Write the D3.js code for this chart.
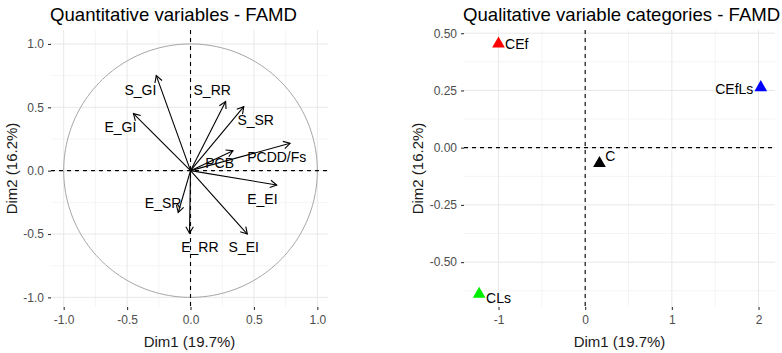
<html>
<head>
  <meta charset="utf-8">
  <style>
    body { margin: 0; background: white; }
    svg { font-family: "Liberation Sans", Arial, sans-serif; }
    .grid-major { stroke: #e8e8e8; stroke-width: 1; }
    .grid-minor { stroke: #f1f1f1; stroke-width: 0.8; }
    .tick-label { fill: #4d4d4d; font-size: 12px; }
    .axis-title { fill: #1a1a1a; font-size: 15px; }
    .plot-title { fill: #000; font-size: 18.6px; }
    .zero-line { stroke: #000; stroke-width: 1.1; stroke-dasharray: 4,4; }
  </style>
</head>
<body>
  <script src="https://d3js.org/d3.v7.min.js"></script>
  <script>
    // quantitative variables (correlation circle)
    const varNames = ["S_GI", "E_GI", "S_RR", "S_SR", "PCDD/Fs", "PCB", "E_EI", "S_EI", "E_RR", "E_SR"];
    const varDim1 = [-0.27, -0.45, 0.277, 0.42, 0.785, 0.335, 0.68, 0.448, -0.008, -0.097];
    const varDim2 = [0.75, 0.45, 0.545, 0.505, 0.216, 0.158, -0.113, -0.5, -0.494, -0.33];
    const varLabelDim1 = [-0.395, -0.553, 0.171, 0.514, 0.68, 0.23, 0.567, 0.42, 0.074, -0.216];
    const varLabelDim2 = [0.637, 0.347, 0.632, 0.40, 0.11, 0.058, -0.226, -0.605, -0.6, -0.257];

    // qualitative categories
    const catNames = ["CEf", "CEfLs", "C", "CLs"];
    const catDim1 = [-1.0, 2.026, 0.165, -1.223];
    const catDim2 = [0.454, 0.263, -0.068, -0.64];
    const catLabelDim1 = [-0.79, 1.72, 0.29, -1.0];
    const catLabelDim2 = [0.454, 0.254, -0.039, -0.655];
    const catColors = ["#ff0000", "#0000ff", "#000000", "#00ee00"];

    const leftTicks = [-1.0, -0.5, 0.0, 0.5, 1.0];
    const rightXTicks = [-1, 0, 1, 2];
    const rightYTicks = [-0.5, -0.25, 0, 0.25, 0.5];

    const width = 782, height = 353;
    const svg = d3.select("body").append("svg")
      .attr("width", width).attr("height", height);

    // R prints a plain hyphen for negatives
    const fmt = (spec) => { const f = d3.format(spec); return v => f(v).replace("\u2212", "-"); };

    function drawPanel(opts) {
      const x = d3.scaleLinear().domain(opts.xDomain).range([opts.left, opts.right]);
      const y = d3.scaleLinear().domain(opts.yDomain).range([opts.bottom, opts.top]);
      const g = svg.append("g");

      // grid: minor lines halfway between major ticks
      const minor = (ticks) => {
        const step = ticks[1] - ticks[0];
        const ext = [ticks[0] - step].concat(ticks, [ticks[ticks.length - 1] + step]);
        return d3.pairs(ext).map(p => (p[0] + p[1]) / 2);
      };
      const xMinor = minor(opts.xTicks).filter(v => x(v) >= opts.left && x(v) <= opts.right);
      const yMinor = minor(opts.yTicks).filter(v => y(v) >= opts.top && y(v) <= opts.bottom);

      g.selectAll(".vminor").data(xMinor).join("line").attr("class", "grid-minor")
        .attr("x1", d => x(d)).attr("x2", d => x(d)).attr("y1", opts.top).attr("y2", opts.bottom);
      g.selectAll(".hminor").data(yMinor).join("line").attr("class", "grid-minor")
        .attr("y1", d => y(d)).attr("y2", d => y(d)).attr("x1", opts.left).attr("x2", opts.right);
      g.selectAll(".vmajor").data(opts.xTicks).join("line").attr("class", "grid-major")
        .attr("x1", d => x(d)).attr("x2", d => x(d)).attr("y1", opts.top).attr("y2", opts.bottom);
      g.selectAll(".hmajor").data(opts.yTicks).join("line").attr("class", "grid-major")
        .attr("y1", d => y(d)).attr("y2", d => y(d)).attr("x1", opts.left).attr("x2", opts.right);

      // axes
      const xAxis = d3.axisBottom(x).tickValues(opts.xTicks).tickFormat(opts.xFormat).tickSize(3).tickPadding(5);
      const yAxis = d3.axisLeft(y).tickValues(opts.yTicks).tickFormat(opts.yFormat).tickSize(3).tickPadding(4);
      const gx = g.append("g").attr("transform", `translate(0,${opts.bottom})`).call(xAxis);
      const gy = g.append("g").attr("transform", `translate(${opts.left},0)`).call(yAxis);
      [gx, gy].forEach(a => {
        a.select(".domain").remove();
        a.selectAll(".tick line").attr("stroke", "#333").attr("stroke-width", 1.1);
        a.selectAll(".tick text").attr("class", "tick-label").attr("font-family", null).attr("font-size", null).attr("fill", null);
      });

      // titles
      g.append("text").attr("class", "plot-title")
        .attr("x", opts.left - 1).attr("y", 21).text(opts.title);
      g.append("text").attr("class", "axis-title")
        .attr("x", (opts.left + opts.right) / 2).attr("y", 347)
        .attr("text-anchor", "middle").text("Dim1 (19.7%)");
      g.append("text").attr("class", "axis-title")
        .attr("transform", `translate(${opts.yTitleX},${(opts.top + opts.bottom) / 2}) rotate(-90)`)
        .attr("text-anchor", "middle").attr("dy", "0.35em").text("Dim2 (16.2%)");

      return { g, x, y };
    }

    // ---------- left panel ----------
    const L = drawPanel({
      left: 51, right: 328, top: 30, bottom: 307,
      xDomain: [-1.1, 1.084], yDomain: [-1.076, 1.11],
      xTicks: leftTicks, yTicks: leftTicks,
      xFormat: fmt(".1f"), yFormat: fmt(".1f"),
      yTitleX: 12,
      title: "Quantitative variables - FAMD"
    });

    // unit circle
    const circ = d3.range(0, 361, 2).map(a => [Math.cos(a * Math.PI / 180), Math.sin(a * Math.PI / 180)]);
    L.g.append("path")
      .attr("d", d3.line().x(d => L.x(d[0])).y(d => L.y(d[1]))(circ))
      .attr("fill", "none").attr("stroke", "#a6a6a6").attr("stroke-width", 1);

    L.g.append("line").attr("class", "zero-line")
      .attr("x1", L.x(0)).attr("x2", L.x(0)).attr("y1", 30).attr("y2", 307);
    L.g.append("line").attr("class", "zero-line")
      .attr("y1", L.y(0)).attr("y2", L.y(0)).attr("x1", 51).attr("x2", 328);

    const vars = varNames.map((n, i) => ({
      name: n, x: varDim1[i], y: varDim2[i], lx: varLabelDim1[i], ly: varLabelDim2[i]
    }));

    const arrowLen = 7.5, arrowAng = Math.PI / 6;
    vars.forEach(d => {
      const x0 = L.x(0), y0 = L.y(0), x1 = L.x(d.x), y1 = L.y(d.y);
      const ang = Math.atan2(y1 - y0, x1 - x0);
      const head = [
        [x1 - arrowLen * Math.cos(ang - arrowAng), y1 - arrowLen * Math.sin(ang - arrowAng)],
        [x1, y1],
        [x1 - arrowLen * Math.cos(ang + arrowAng), y1 - arrowLen * Math.sin(ang + arrowAng)]
      ];
      L.g.append("line")
        .attr("x1", x0).attr("y1", y0).attr("x2", x1).attr("y2", y1)
        .attr("stroke", "#000").attr("stroke-width", 1.1);
      L.g.append("path").attr("d", d3.line()(head))
        .attr("fill", "none").attr("stroke", "#000").attr("stroke-width", 1.1);
    });

    L.g.selectAll(".var-label").data(vars).join("text")
      .attr("x", d => L.x(d.lx)).attr("y", d => L.y(d.ly))
      .attr("text-anchor", "middle").attr("dy", "0.35em")
      .attr("font-size", 14).attr("fill", "#000")
      .text(d => d.name);

    // ---------- right panel ----------
    const R = drawPanel({
      left: 464, right: 775, top: 30, bottom: 307,
      xDomain: [-1.398, 2.19], yDomain: [-0.696, 0.514],
      xTicks: rightXTicks, yTicks: rightYTicks,
      xFormat: fmt("d"), yFormat: fmt(".2f"),
      yTitleX: 418,
      title: "Qualitative variable categories - FAMD"
    });

    R.g.append("line").attr("class", "zero-line")
      .attr("x1", R.x(0)).attr("x2", R.x(0)).attr("y1", 30).attr("y2", 307);
    R.g.append("line").attr("class", "zero-line")
      .attr("y1", R.y(0)).attr("y2", R.y(0)).attr("x1", 464).attr("x2", 775);

    const cats = catNames.map((n, i) => ({
      name: n, x: catDim1[i], y: catDim2[i], lx: catLabelDim1[i], ly: catLabelDim2[i], color: catColors[i]
    }));

    const tri = d3.symbol(d3.symbolTriangle, 70);
    R.g.selectAll(".cat-point").data(cats).join("path")
      .attr("d", tri)
      .attr("transform", d => `translate(${R.x(d.x)},${R.y(d.y)})`)
      .attr("fill", d => d.color);

    R.g.selectAll(".cat-label").data(cats).join("text")
      .attr("x", d => R.x(d.lx)).attr("y", d => R.y(d.ly))
      .attr("text-anchor", "middle").attr("dy", "0.35em")
      .attr("font-size", 14).attr("fill", "#000")
      .text(d => d.name);
  </script>
</body>
</html>
